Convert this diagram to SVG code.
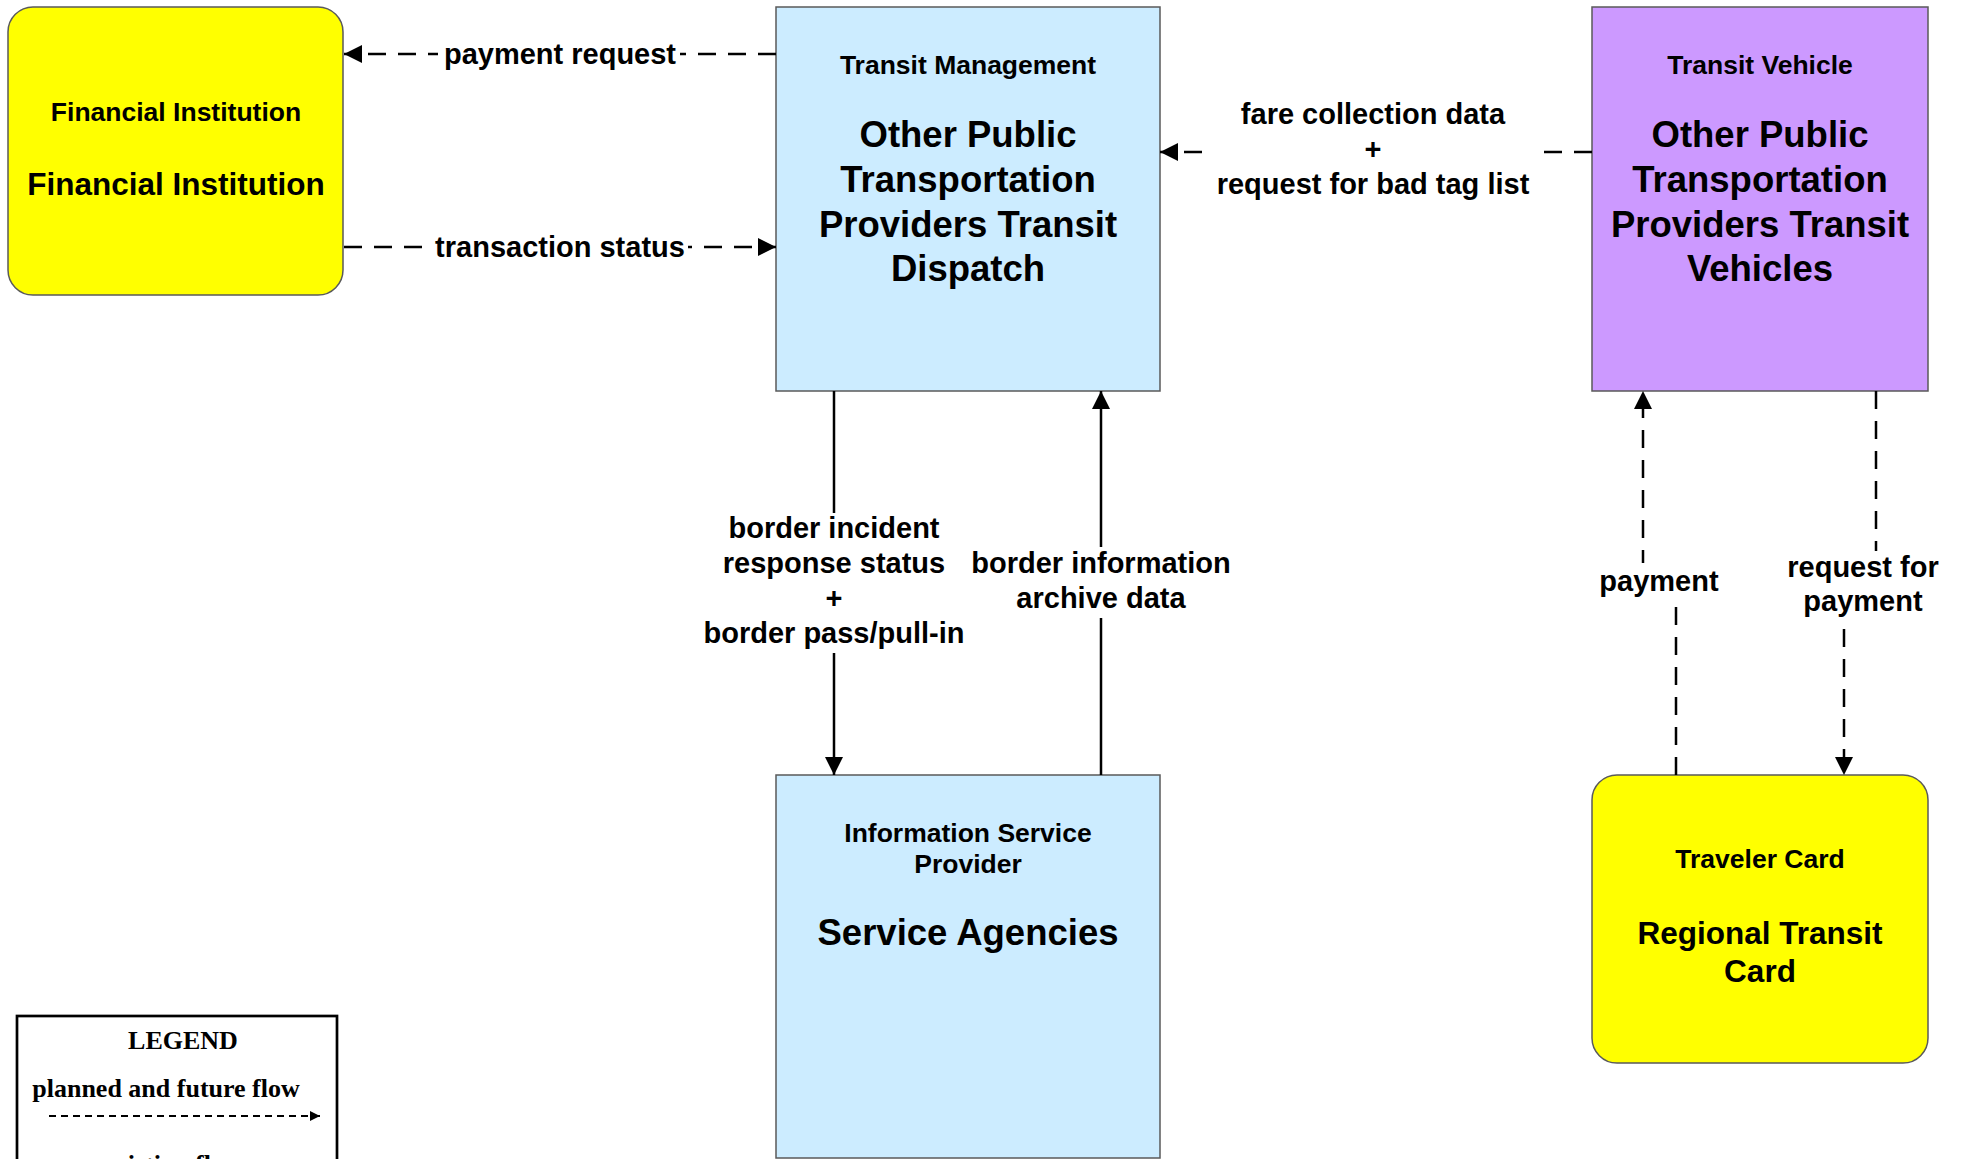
<svg xmlns="http://www.w3.org/2000/svg" width="1961" height="1159" viewBox="0 0 1961 1159">
<defs>
<marker id="arr" markerUnits="userSpaceOnUse" markerWidth="20" markerHeight="20" refX="18" refY="9" orient="auto">
<path d="M0,0 L18,9 L0,18 z" fill="#000"/>
</marker>
<marker id="arrS" markerUnits="userSpaceOnUse" markerWidth="12" markerHeight="12" refX="10" refY="5" orient="auto">
<path d="M0,0 L10,5 L0,10 z" fill="#000"/>
</marker>
<style>
.box{stroke:#5a5a5a;stroke-width:1.5}
.blue{fill:#CCECFF}
.purple{fill:#CC99FF}
.yellow{fill:#FFFF00}
.t{font-family:"Liberation Sans",Arial,sans-serif;font-weight:bold;fill:#000;text-anchor:middle}
.sm{font-size:26.5px}
.lg{font-size:36.5px}
.md{font-size:31.5px}
.lb{font-size:29px}
.flow{fill:none;stroke:#000;stroke-width:2.5}
.dash{stroke-dasharray:18 12}
.bg{fill:#fff}
.lgd{font-family:"Liberation Serif","Times New Roman",serif;font-weight:bold;font-size:26px;text-anchor:middle;fill:#000}
</style>
</defs>
<rect width="1961" height="1159" fill="#fff"/>

<g id="financial-institution">
<rect class="box yellow" x="8" y="7" width="335" height="288" rx="25" ry="25"/>
<text class="t sm" x="176" y="121">Financial Institution</text>
<text class="t md" x="176" y="195">Financial Institution</text>
</g>

<g id="transit-management">
<rect class="box blue" x="776" y="7" width="384" height="384"/>
<text class="t sm" x="968" y="74">Transit Management</text>
<text class="t lg" x="968" y="147">Other Public</text>
<text class="t lg" x="968" y="192">Transportation</text>
<text class="t lg" x="968" y="237">Providers Transit</text>
<text class="t lg" x="968" y="281">Dispatch</text>
</g>

<g id="transit-vehicle">
<rect class="box purple" x="1592" y="7" width="336" height="384"/>
<text class="t sm" x="1760" y="74">Transit Vehicle</text>
<text class="t lg" x="1760" y="147">Other Public</text>
<text class="t lg" x="1760" y="192">Transportation</text>
<text class="t lg" x="1760" y="237">Providers Transit</text>
<text class="t lg" x="1760" y="281">Vehicles</text>
</g>

<g id="information-service-provider">
<rect class="box blue" x="776" y="775" width="384" height="383"/>
<text class="t sm" x="968" y="842">Information Service</text>
<text class="t sm" x="968" y="873">Provider</text>
<text class="t lg" x="968" y="945">Service Agencies</text>
</g>

<g id="traveler-card">
<rect class="box yellow" x="1592" y="775" width="336" height="288" rx="25" ry="25"/>
<text class="t sm" x="1760" y="868">Traveler Card</text>
<text class="t md" x="1760" y="944">Regional Transit</text>
<text class="t md" x="1760" y="982">Card</text>
</g>

<g id="connectors">
<path class="flow dash" d="M776,54 H344" marker-end="url(#arr)"/>
<rect class="bg" x="438" y="38" width="242" height="34"/>
<text class="t lb" x="560" y="64">payment request</text>

<path class="flow dash" d="M344,247 H776" marker-end="url(#arr)"/>
<rect class="bg" x="432" y="231" width="256" height="34"/>
<text class="t lb" x="560" y="257">transaction status</text>

<path class="flow dash" d="M1592,152 H1160" marker-end="url(#arr)"/>
<rect class="bg" x="1213" y="98" width="324" height="106"/>
<text class="t lb" x="1373" y="124">fare collection data</text>
<text class="t lb" x="1373" y="159">+</text>
<text class="t lb" x="1373" y="194">request for bad tag list</text>

<path class="flow" d="M834,391 V775" marker-end="url(#arr)"/>
<rect class="bg" x="700" y="513" width="268" height="140"/>
<text class="t lb" x="834" y="538">border incident</text>
<text class="t lb" x="834" y="573">response status</text>
<text class="t lb" x="834" y="608">+</text>
<text class="t lb" x="834" y="643">border pass/pull-in</text>

<path class="flow" d="M1101,775 V391" marker-end="url(#arr)"/>
<rect class="bg" x="970" y="547" width="262" height="71"/>
<text class="t lb" x="1101" y="573">border information</text>
<text class="t lb" x="1101" y="608">archive data</text>

<path class="flow dash" d="M1676,775 V582 H1643 V391" marker-end="url(#arr)"/>
<rect class="bg" x="1598" y="563" width="122" height="39"/>
<text class="t lb" x="1659" y="591">payment</text>

<path class="flow dash" d="M1876,391 V586 H1844 V775" marker-end="url(#arr)"/>
<rect class="bg" x="1786" y="551" width="154" height="71"/>
<text class="t lb" x="1863" y="577">request for</text>
<text class="t lb" x="1863" y="611">payment</text>
</g>

<g id="legend">
<rect x="17" y="1016" width="320" height="200" fill="#fff" stroke="#000" stroke-width="2.7"/>
<text class="lgd" x="183" y="1049">LEGEND</text>
<text class="lgd" x="166" y="1097">planned and future flow</text>
<path d="M49,1116 H320" fill="none" stroke="#000" stroke-width="2" stroke-dasharray="7 5" marker-end="url(#arrS)"/>
<text class="lgd" x="173" y="1173">existing flow</text>
</g>
</svg>
